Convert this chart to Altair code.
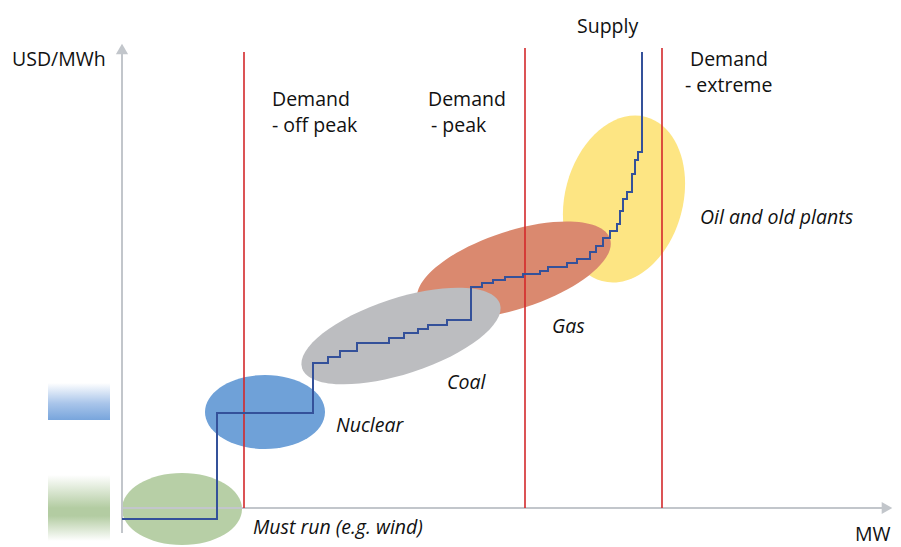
import altair as alt
import pandas as pd

# Supply stack as a step curve (MW from the price axis, price from the MW axis)
supply_mw = [0, 95, 191, 206, 218, 235, 267, 282, 296, 306, 325, 349, 360, 371,
             383, 401, 418, 426, 445, 455, 468, 474, 481, 488, 495, 498, 501,
             505, 510, 513, 516, 520]
supply_price = [-11, 95, 145, 151, 157, 165, 170, 175, 179, 183, 188, 221, 225,
                228, 231, 234, 237, 241, 245, 249, 256, 262, 270, 277, 284, 297,
                309, 316, 334, 348, 356, 456]

# Demand levels (vertical red lines)
demand_mw = [122, 403, 540]
demand_top = [456, 460, 460]

# Technology blobs, drawn back to front
tech_names = ["Oil and old plants", "Gas", "Coal", "Nuclear", "Must run"]
tech_mw = [502, 392, 279, 143, 60]
tech_price = [309, 238, 172, 96, -1]
tech_colors = ["#fde583", "#da896f", "#bcbdc0", "#6fa1d8", "#b7cfa6"]
# semi-axes (px) and rotation of each blob
tech_shape = [(85, 59, 285), (101, 39, 342), (104, 38, 342), (60, 37, 0), (60, 36, 0)]

# Labels
label_text = ["USD/MWh", "Demand", "- off peak", "Demand", "- peak", "Supply",
              "Demand", "- extreme", "MW"]
label_mw = [-110, 150, 150, 306, 309, 455, 568, 563, 733]
label_price = [448, 408, 382, 408, 382, 481, 448, 422, -27]

tag_text = ["Oil and old plants", "Gas", "Coal", "Nuclear", "Must run (e.g. wind)"]
tag_mw = [578, 430, 325, 214, 131]
tag_price = [290, 181, 125, 82, -20]

X = alt.Scale(domain=[-114, 771], nice=False, zero=False)
Y = alt.Scale(domain=[-39, 500], nice=False, zero=False)


def xy(xf="mw", yf="price"):
    return dict(x=alt.X(f"{xf}:Q", scale=X, axis=None),
                y=alt.Y(f"{yf}:Q", scale=Y, axis=None))


layers = []

# faded colour swatches on the left
blue_band = pd.DataFrame({"mw": [-74], "mw2": [-12], "price": [88], "price2": [125]})
green_band = pd.DataFrame({"mw": [-74], "mw2": [-12], "price": [-33], "price2": [33]})
for band, stops in [
    (blue_band, [("#ffffff", 0), ("#a9c5ea", 0.55), ("#78a5dc", 1)]),
    (green_band, [("#ffffff", 0), ("#b3cca2", 0.5), ("#b3cca2", 0.62), ("#ffffff", 1)]),
]:
    grad = alt.LinearGradient(
        gradient="linear", x1=0, x2=0, y1=0, y2=1,
        stops=[alt.GradientStop(color=c, offset=o) for c, o in stops])
    layers.append(
        alt.Chart(band).mark_rect(fill=grad).encode(
            x2="mw2:Q", y2="price2:Q", **xy()))

# blobs
for name, mw, price, color, (a, b, ang) in zip(tech_names, tech_mw, tech_price,
                                               tech_colors, tech_shape):
    r = round(b / a, 3)
    path = f"M -1 0 A 1 {r} 0 1 1 1 0 A 1 {r} 0 1 1 -1 0 Z"
    df = pd.DataFrame({"tech": [name], "mw": [mw], "price": [price]})
    layers.append(
        alt.Chart(df).mark_point(shape=path, size=4 * a * a, angle=ang, filled=True,
                                 color=color, opacity=1, strokeWidth=0)
        .encode(**xy()))

# axes
axis_color = "#c2c6cb"
y_axis = pd.DataFrame({"mw": [0], "price": [-25], "price2": [455]})
x_axis = pd.DataFrame({"mw": [0], "mw2": [762], "price": [0]})
layers.append(alt.Chart(y_axis).mark_rule(color=axis_color, strokeWidth=2)
              .encode(y2="price2:Q", **xy()))
layers.append(alt.Chart(x_axis).mark_rule(color=axis_color, strokeWidth=2)
              .encode(x2="mw2:Q", **xy()))
layers.append(alt.Chart(pd.DataFrame({"mw": [0], "price": [459]}))
              .mark_point(shape="triangle-up", size=150, filled=True, color=axis_color, opacity=1)
              .encode(**xy()))
layers.append(alt.Chart(pd.DataFrame({"mw": [765], "price": [0]}))
              .mark_point(shape="triangle-right", size=150, filled=True, color=axis_color, opacity=1)
              .encode(**xy()))

# demand lines
demand = pd.DataFrame({"mw": demand_mw, "price": [0] * 3, "top": demand_top})
layers.append(alt.Chart(demand).mark_rule(color="#d3292b", strokeWidth=1.6)
              .encode(y2="top:Q", **xy()))

# supply curve
supply = pd.DataFrame({"mw": supply_mw, "price": supply_price})
layers.append(alt.Chart(supply).mark_line(interpolate="step-after", color="#34519a",
                                          strokeWidth=2)
              .encode(**xy()))

# text
labels = pd.DataFrame({"t": label_text, "mw": label_mw, "price": label_price})
layers.append(alt.Chart(labels).mark_text(align="left", baseline="middle", font="Open Sans",
                                          fontSize=19.5, color="#111111")
              .encode(text="t:N", **xy()))
tags = pd.DataFrame({"t": tag_text, "mw": tag_mw, "price": tag_price})
layers.append(alt.Chart(tags).mark_text(align="left", baseline="middle", font="Open Sans",
                                        fontSize=19.5, fontStyle="italic", color="#111111")
              .encode(text="t:N", **xy()))

chart = (
    alt.layer(*layers)
    .properties(width=885, height=539, padding=0,
                autosize=alt.AutoSizeParams(type="none"))
    .configure_view(stroke=None)
)

chart.save("out.html", embed_options={"renderer": "svg", "actions": False})
